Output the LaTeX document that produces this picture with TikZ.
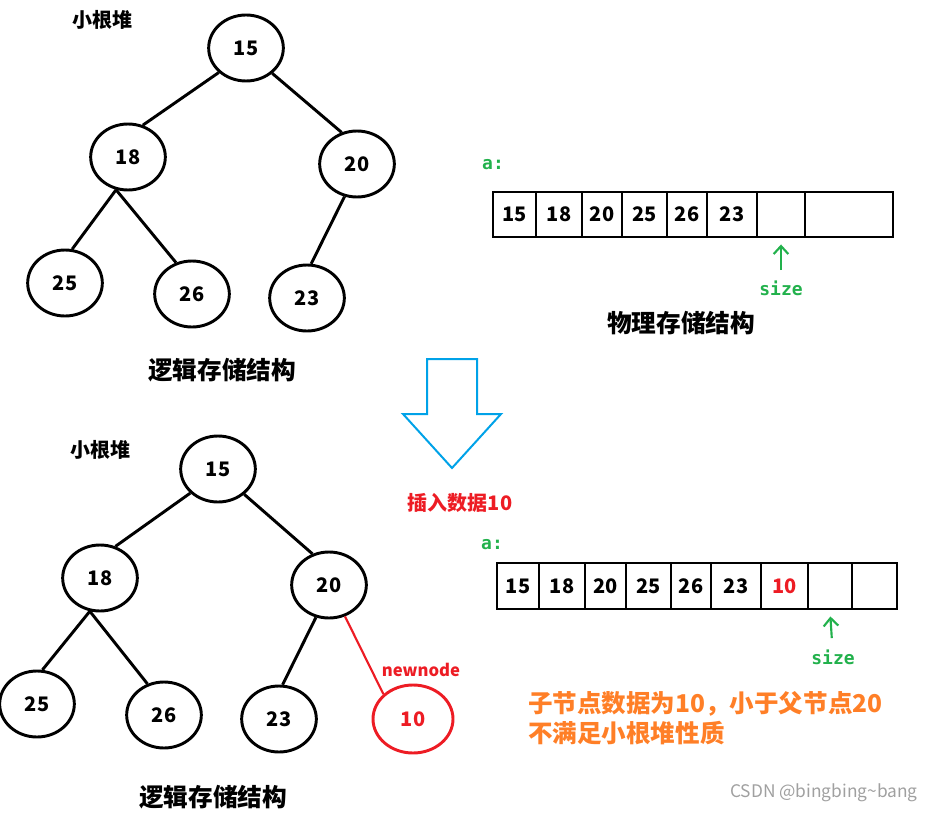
\documentclass[tikz,border=0pt]{standalone}
\usepackage{fontspec}
\setmainfont{Noto Sans CJK SC}
\newfontfamily\codefont{DejaVu Sans Mono}
\usetikzlibrary{shapes.geometric, arrows.meta}

\definecolor{paintred}{RGB}{237,28,36}
\definecolor{paintgreen}{RGB}{34,177,76}
\definecolor{paintblue}{RGB}{0,162,232}
\definecolor{paintorange}{RGB}{255,127,39}
\definecolor{markgray}{RGB}{160,160,160}

\tikzset{
  heapnode/.style={ellipse, draw, line width=2.2pt, minimum width=56pt,
    minimum height=49.5pt, inner sep=0pt, font=\bfseries\fontsize{15}{17}\selectfont},
  newheapnode/.style={heapnode, draw=paintred, text=paintred,
    minimum width=60pt, minimum height=51pt},
  treeedge/.style={line width=2.2pt},
  cell/.style={draw, line width=2.2pt, inner sep=0pt, font=\bfseries\fontsize{15}{17}\selectfont},
  caption/.style={font=\bfseries\fontsize{18.5}{22}\selectfont},
  heaptag/.style={font=\bfseries\fontsize{15}{18}\selectfont},
  arrlabel/.style={text=paintgreen, font=\codefont\bfseries\fontsize{13.5}{16}\selectfont},
  ptr/.style={-{Straight Barb[length=6pt, width=11pt]}, draw=paintgreen, line width=1.6pt},
}

\begin{document}
\begin{tikzpicture}[x=0.75pt, y=-0.75pt]
    \useasboundingbox (0,0) rectangle (934,813);

    % Logical storage, before insertion
    \begin{scope}
        \node[heapnode] (n15) at (246,48) {15};
        \node[heapnode] (n18) at (128,157) {18};
        \node[heapnode] (n20) at (357,164) {20};
        \node[heapnode] (n25) at (65,283) {25};
        \node[heapnode] (n26) at (192,294) {26};
        \node[heapnode] (n23) at (307,298) {23};

        \draw[treeedge] (n15.222) -- (n18.65);
        \draw[treeedge] (n15.316) -- (n20.116);
        \draw[treeedge] (n18.250) -- (n25.78);
        \draw[treeedge] (n18.250) -- (n26.117);
        \draw[treeedge] (n20.249) -- (n23.83);
    \end{scope}
    \node[heaptag] (tagA) at (102,20) {小根堆};
    \node[caption] (logicA) at (222,370) {逻辑存储结构};

    % Physical storage, before insertion
    \node[arrlabel] (nameA) at (493,165) {a:};
    \foreach \l/\r/\v [count=\i] in {493/536/15, 536/582/18, 582/622/20, 622/667/25,
                                     667/707/26, 707/757/23, 757/805/{}, 805/893/{}}
        \node[cell, minimum width={(\r-\l)*0.75pt}, minimum height=33.75pt]
            (a\i) at ({(\l+\r)/2},214.5) {\v};
    \node[arrlabel] (szA) at (781,288) {size};
    \draw[ptr, shorten <=13.5pt, shorten >=4.5pt] (szA.center) -- (a7.south);
    \node[caption] (physA) at (681,323) {物理存储结构};

    % Insert step
    \draw[paintblue, line width=1.5pt] (427,359) -- (477,359) -- (477,414) -- (501,414)
        -- (452,468) -- (403,414) -- (427,414) -- cycle;
    \node[heaptag, text=paintred] (ins) at (460,503) {插入数据10};

    % Logical storage, after insertion
    \begin{scope}[shift={(-28,421)}, name prefix=b-]
        \node[heapnode] (n15) at (246,48) {15};
        \node[heapnode] (n18) at (128,157) {18};
        \node[heapnode] (n20) at (357,164) {20};
        \node[heapnode] (n25) at (65,283) {25};
        \node[heapnode] (n26) at (192,294) {26};
        \node[heapnode] (n23) at (307,298) {23};
        \node[newheapnode] (n10) at (441,298) {10};
        \node[text=paintred, font=\bfseries\fontsize{12.5}{15}\selectfont] (newtag) at (449,249) {newnode};

        \draw[treeedge] (n15.221) -- (n18.64);
        \draw[treeedge] (n15.316) -- (n20.118);
        \draw[treeedge] (n18.253) -- (n25.81);
        \draw[treeedge] (n18.253) -- (n26.118);
        \draw[treeedge] (n20.248) -- (n23.84);
        \draw[paintred, line width=1.6pt] (n20.297) -- (n10.140);
    \end{scope}
    \node[heaptag] (tagB) at (100,450) {小根堆};
    \node[caption] (logicB) at (213,797) {逻辑存储结构};

    % Physical storage, after insertion
    \node[arrlabel] (nameB) at (492,545) {a:};
    \foreach \l/\r/\v/\c [count=\i] in {497/539/15/black, 539/585/18/black, 585/626/20/black,
                                        626/671/25/black, 671/711/26/black, 711/761/23/black,
                                        761/808/10/paintred, 808/852/{}/black, 852/897/{}/black}
        \node[cell, text=\c, minimum width={(\r-\l)*0.75pt}, minimum height=34.5pt]
            (b\i) at ({(\l+\r)/2},586) {\v};
    \node[arrlabel] (szB) at (833,657) {size};
    \draw[ptr, shorten <=14.25pt, shorten >=4.5pt] (szB.center) -- (b8.south);

    % Remark
    \node[anchor=west, align=left, inner sep=0pt, text=paintorange,
          font=\bfseries\fontsize{18.4}{22.5}\selectfont] (note) at (528,718)
        {子节点数据为10，小于父节点20\\不满足小根堆性质};
    \node[anchor=east, inner sep=0pt, text=markgray, font=\fontsize{13}{15}\selectfont]
        (mark) at (918,793) {CSDN @bingbing\textasciitilde bang};
\end{tikzpicture}
\end{document}
